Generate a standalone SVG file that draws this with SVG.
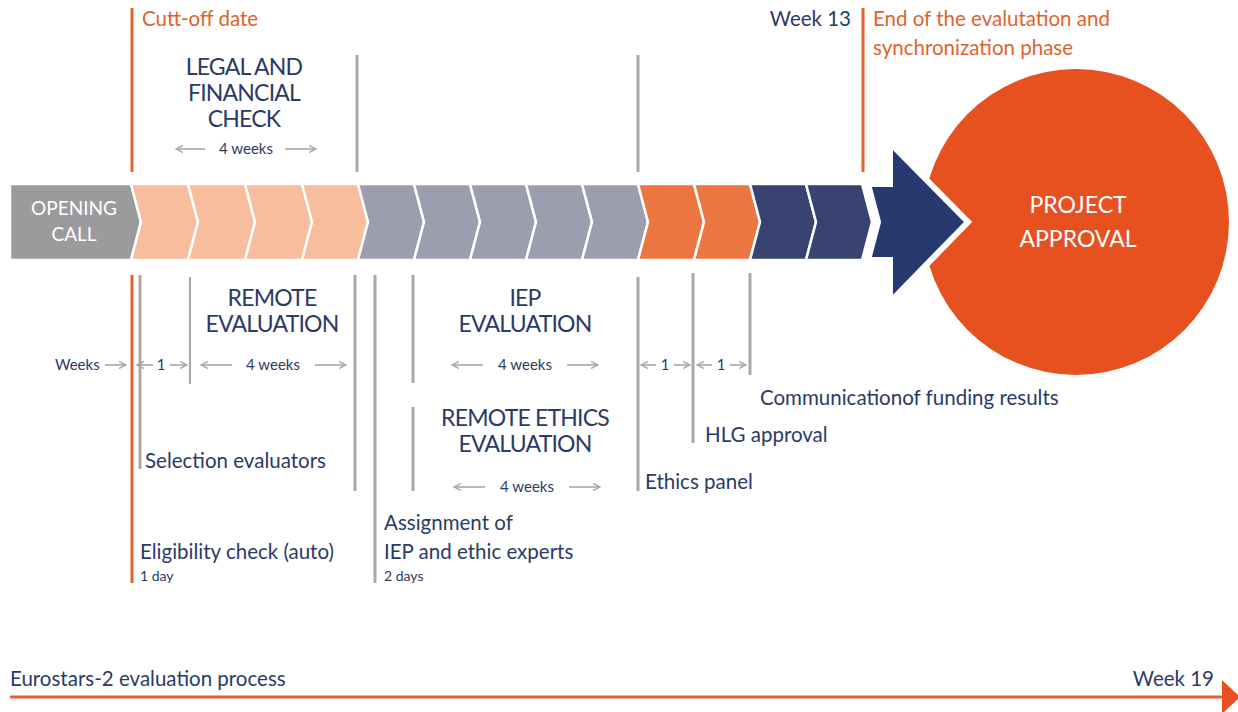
<svg xmlns="http://www.w3.org/2000/svg" width="1238" height="712" viewBox="0 0 1238 712">
<defs>
<style>
.t{font-family:Lato,"Open Sans","Liberation Sans",sans-serif;fill:#2B3A67}
.h{font-size:23px;text-anchor:middle;letter-spacing:-0.8px}
.lb{font-size:20.5px}
.sm{font-size:15px}
.xs{font-size:14px}
.or{fill:#E2622C}
.wt{fill:#ffffff;text-anchor:middle}
.gl{stroke:#A8A8A8;stroke-width:3;fill:none}
.ol{stroke:#E2622C;stroke-width:3;fill:none}
.ar{stroke:#A8A8A8;stroke-width:1.6;fill:none;marker-end:url(#ah)}
.ch{stroke:#ffffff;stroke-width:2.5;stroke-linejoin:miter}
.pe{fill:#F7BD9C}.gr{fill:#9A9EAE}.oc{fill:#EC7642}.nv{fill:#394371}
</style>
<marker id="ah" viewBox="0 0 8 8" refX="7" refY="4" markerWidth="8" markerHeight="8" markerUnits="userSpaceOnUse" orient="auto">
<path d="M0,0.5 L7,4 L0,7.5" fill="none" stroke="#A8A8A8" stroke-width="1.4"/>
</marker>
</defs>

<g id="band">
<path class="ch" fill="#9B9B9D" d="M10,184 L131,184 L141,222 L131,260 L10,260 Z"/>
<path class="ch pe" d="M131,184 L188,184 L198,222 L188,260 L131,260 L141,222 Z"/>
<path class="ch pe" d="M188,184 L245,184 L255,222 L245,260 L188,260 L198,222 Z"/>
<path class="ch pe" d="M245,184 L302,184 L312,222 L302,260 L245,260 L255,222 Z"/>
<path class="ch pe" d="M302,184 L358,184 L368,222 L358,260 L302,260 L312,222 Z"/>
<path class="ch gr" d="M358,184 L414,184 L424,222 L414,260 L358,260 L368,222 Z"/>
<path class="ch gr" d="M414,184 L470,184 L480,222 L470,260 L414,260 L424,222 Z"/>
<path class="ch gr" d="M470,184 L526,184 L536,222 L526,260 L470,260 L480,222 Z"/>
<path class="ch gr" d="M526,184 L582,184 L592,222 L582,260 L526,260 L536,222 Z"/>
<path class="ch gr" d="M582,184 L638,184 L648,222 L638,260 L582,260 L592,222 Z"/>
<path class="ch oc" d="M638,184 L694,184 L704,222 L694,260 L638,260 L648,222 Z"/>
<path class="ch oc" d="M694,184 L750,184 L760,222 L750,260 L694,260 L704,222 Z"/>
<path class="ch nv" d="M750,184 L806,184 L816,222 L806,260 L750,260 L760,222 Z"/>
<path class="ch nv" d="M806,184 L862,184 L872,222 L862,260 L806,260 L816,222 Z"/>
<text class="t wt" x="74" y="215" style="font-size:19px">OPENING</text>
<text class="t wt" x="74" y="241" style="font-size:19px">CALL</text>
</g>

<g id="approval">
<circle cx="1076" cy="222" r="153" fill="#E6511F"/>
<path d="M868,184 L890,184 L890,143 L968,222 L890,302 L890,260 L868,260 L878,222 Z" fill="#263A70" stroke="#ffffff" stroke-width="6" stroke-linejoin="miter"/>
<text class="t wt" x="1078" y="213" style="font-size:23px">PROJECT</text>
<text class="t wt" x="1078" y="247" style="font-size:23px">APPROVAL</text>
</g>

<g id="connectors">
<line class="ol" x1="132" y1="8" x2="132" y2="172"/>
<line class="ol" x1="132" y1="275" x2="132" y2="583"/>
<line class="ol" x1="863" y1="8" x2="863" y2="172"/>
<line class="gl" x1="357" y1="55" x2="357" y2="172"/>
<line class="gl" x1="638" y1="55" x2="638" y2="172"/>
<line class="gl" x1="140" y1="275" x2="140" y2="469"/>
<line class="gl" x1="190" y1="277" x2="190" y2="384" style="stroke-width:2"/>
<line class="gl" x1="355" y1="275" x2="355" y2="491"/>
<line class="gl" x1="375" y1="275" x2="375" y2="583"/>
<line class="gl" x1="413" y1="275" x2="413" y2="383"/>
<line class="gl" x1="413" y1="407" x2="413" y2="491"/>
<line class="gl" x1="638" y1="277" x2="638" y2="491"/>
<line class="gl" x1="693" y1="273" x2="693" y2="443"/>
<line class="gl" x1="750" y1="273" x2="750" y2="375"/>
<!-- duration arrows -->
<line class="ar" x1="205" y1="149" x2="176" y2="149"/>
<line class="ar" x1="285" y1="149" x2="316" y2="149"/>
<line class="ar" x1="105" y1="365" x2="126" y2="365"/>
<line class="ar" x1="153" y1="365" x2="137" y2="365"/>
<line class="ar" x1="170" y1="365" x2="187" y2="365"/>
<line class="ar" x1="232" y1="365" x2="201" y2="365"/>
<line class="ar" x1="315" y1="365" x2="346" y2="365"/>
<line class="ar" x1="483" y1="365" x2="452" y2="365"/>
<line class="ar" x1="567" y1="365" x2="598" y2="365"/>
<line class="ar" x1="485" y1="487" x2="454" y2="487"/>
<line class="ar" x1="569" y1="487" x2="600" y2="487"/>
<line class="ar" x1="656" y1="365" x2="641" y2="365"/>
<line class="ar" x1="674" y1="365" x2="690" y2="365"/>
<line class="ar" x1="712" y1="365" x2="697" y2="365"/>
<line class="ar" x1="730" y1="365" x2="746" y2="365"/>
<!-- bottom timeline -->
<line x1="10" y1="697" x2="1224" y2="697" stroke="#E2622C" stroke-width="3"/>
<path d="M1222,680 L1240,697 L1222,714 Z" fill="#E6511F"/>
</g>

<g id="labels">
<text class="t lb or" x="142" y="26">Cutt-off date</text>
<text class="t lb" x="851" y="26" text-anchor="end">Week 13</text>
<text class="t lb or" x="873" y="26">End of the evalutation and</text>
<text class="t lb or" x="873" y="55">synchronization phase</text>
<text class="t h" x="244" y="75">LEGAL AND</text>
<text class="t h" x="244" y="101">FINANCIAL</text>
<text class="t h" x="244" y="127">CHECK</text>
<text class="t sm" x="246" y="154" text-anchor="middle">4 weeks</text>
<text class="t h" x="272" y="306">REMOTE</text>
<text class="t h" x="272" y="332">EVALUATION</text>
<text class="t h" x="525" y="306">IEP</text>
<text class="t h" x="525" y="332">EVALUATION</text>
<text class="t h" x="525" y="426">REMOTE ETHICS</text>
<text class="t h" x="525" y="452">EVALUATION</text>
<text class="t sm" x="55" y="370">Weeks</text>
<text class="t sm" x="161" y="370" text-anchor="middle">1</text>
<text class="t sm" x="273" y="370" text-anchor="middle">4 weeks</text>
<text class="t sm" x="525" y="370" text-anchor="middle">4 weeks</text>
<text class="t sm" x="527" y="492" text-anchor="middle">4 weeks</text>
<text class="t sm" x="665" y="370" text-anchor="middle">1</text>
<text class="t sm" x="721" y="370" text-anchor="middle">1</text>
<text class="t lb" x="145" y="468">Selection evaluators</text>
<text class="t lb" x="140" y="559">Eligibility check (auto)</text>
<text class="t xs" x="140" y="581">1 day</text>
<text class="t lb" x="384" y="530">Assignment of</text>
<text class="t lb" x="384" y="559">IEP and ethic experts</text>
<text class="t xs" x="384" y="581">2 days</text>
<text class="t lb" x="645" y="489">Ethics panel</text>
<text class="t lb" x="705" y="442">HLG approval</text>
<text class="t lb" x="760" y="405">Communicationof funding results</text>
<text class="t lb" x="10" y="686">Eurostars-2 evaluation process</text>
<text class="t lb" x="1214" y="686" text-anchor="end">Week 19</text>
</g>
</svg>
